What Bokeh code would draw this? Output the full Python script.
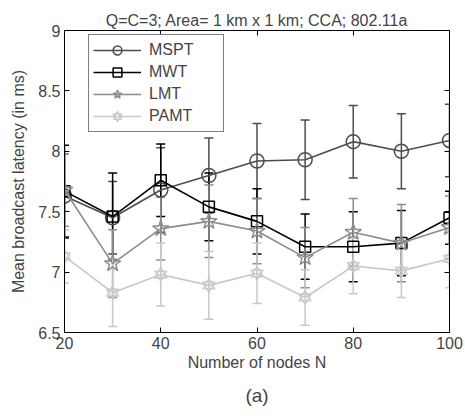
from bokeh.plotting import figure
from bokeh.models import (ColumnDataSource, Whisker, TeeHead, Legend, LegendItem,
                          LinearAxis, FixedTicker, Range1d, Title)
from bokeh.embed import file_html
from bokeh.resources import INLINE

nodes = [20, 30, 40, 50, 60, 70, 80, 90, 100]
series_names = ["MSPT", "MWT", "LMT", "PAMT"]
mspt = [7.63, 7.45, 7.68, 7.80, 7.92, 7.93, 8.08, 8.00, 8.09]
mspt_err = [0.35, 0.30, 0.35, 0.31, 0.31, 0.33, 0.30, 0.31, 0.30]
mwt = [7.67, 7.46, 7.76, 7.54, 7.42, 7.21, 7.21, 7.24, 7.45]
mwt_err = [0.38, 0.36, 0.30, 0.28, 0.27, 0.27, 0.29, 0.27, 0.22]
lmt = [7.68, 7.07, 7.36, 7.42, 7.34, 7.12, 7.33, 7.24, 7.37]
lmt_err = [0.30, 0.28, 0.26, 0.30, 0.27, 0.25, 0.28, 0.32, 0.26]
pamt = [7.13, 6.83, 6.98, 6.89, 6.99, 6.79, 7.05, 7.01, 7.11]
pamt_err = [0.22, 0.28, 0.26, 0.28, 0.25, 0.23, 0.23, 0.22, 0.24]
x_ticks = [20, 40, 60, 80, 100]
y_ticks = [6.5, 7, 7.5, 8, 8.5, 9]

FONT = "Liberation Sans"

p = figure(width=465, height=417, output_backend="svg", toolbar_location=None,
           x_range=Range1d(20, 100), y_range=Range1d(6.5, 9),
           min_border_left=64, min_border_right=16, min_border_top=30, min_border_bottom=85)
p.title.text = "Q=C=3; Area= 1 km x 1 km; CCA; 802.11a"
p.title.align = "center"
p.title.text_font = FONT
p.title.text_font_size = "16px"
p.title.text_font_style = "normal"
p.title.offset = 0
p.title.standoff = 4
p.grid.visible = False
p.outline_line_color = "black"
p.outline_line_width = 1
p.background_fill_color = "white"
p.border_fill_color = "white"

for ax in (p.xaxis[0], p.yaxis[0]):
    ax.major_tick_in = 5
    ax.major_tick_out = 0
    ax.minor_tick_in = 0
    ax.minor_tick_out = 0
    ax.axis_line_color = "black"
    ax.major_label_text_font = FONT
    ax.major_label_text_font_size = "16px"
    ax.axis_label_text_font = FONT
    ax.axis_label_text_font_size = "16px"
    ax.axis_label_text_font_style = "normal"
p.xaxis[0].ticker = FixedTicker(ticks=x_ticks)
p.yaxis[0].ticker = FixedTicker(ticks=y_ticks)
p.xaxis[0].axis_label = "Number of nodes N"
p.yaxis[0].axis_label = "Mean broadcast latency (in ms)"
p.xaxis[0].axis_label_standoff = 2
p.yaxis[0].axis_label_standoff = 8
p.xaxis[0].major_label_standoff = 4
p.yaxis[0].major_label_standoff = 4

for side, tk in (("above", x_ticks), ("right", y_ticks)):
    ax = LinearAxis(ticker=FixedTicker(ticks=tk),
                    major_label_overrides={t: "" for t in tk},
                    major_tick_in=5, major_tick_out=0, minor_tick_in=0, minor_tick_out=0,
                    major_label_standoff=0)
    p.add_layout(ax, side)

p.add_layout(Title(text="(a)", align="center", text_font=FONT, text_font_size="19px",
                   text_font_style="normal", offset=0, standoff=18), "below")

colors = ["#4d4d4d", "#000000", "#8c8c8c", "#c8c8c8"]
means = [mspt, mwt, lmt, pamt]
errs = [mspt_err, mwt_err, lmt_err, pamt_err]
items = []
for name, m, e, c in zip(series_names, means, errs, colors):
    src = ColumnDataSource(dict(x=nodes, y=m,
                                lo=[a - b for a, b in zip(m, e)],
                                hi=[a + b for a, b in zip(m, e)]))
    w = Whisker(source=src, base="x", lower="lo", upper="hi", line_color=c, line_width=1.5,
                upper_head=TeeHead(size=9, line_color=c, line_width=1.5),
                lower_head=TeeHead(size=9, line_color=c, line_width=1.5))
    p.add_layout(w)
    rs = [p.line("x", "y", source=src, line_color=c, line_width=1.6)]
    if name == "MSPT":
        rs.append(p.scatter("x", "y", source=src, marker="circle", size=14, fill_color=None,
                            line_color=c, line_width=1.5))
    elif name == "MWT":
        rs.append(p.scatter("x", "y", source=src, marker="square", size=11, fill_color=None,
                            line_color=c, line_width=1.5))
    elif name == "LMT":
        rs.append(p.scatter("x", "y", source=src, marker="star", size=17, fill_color=None,
                            line_color=c, line_width=1.5))
    else:
        rs.append(p.scatter("x", "y", source=src, marker="triangle", size=12, fill_color=None,
                            line_color=c, line_width=1.3))
        rs.append(p.scatter("x", "y", source=src, marker="inverted_triangle", size=12,
                            fill_color=None, line_color=c, line_width=1.3))
    items.append(LegendItem(label=name, renderers=rs))

legend = Legend(items=items, location=(24, 200), label_text_font=FONT,
                label_text_font_size="16px", glyph_width=48, glyph_height=22,
                label_height=22, label_width=70, spacing=0, padding=4, margin=0,
                border_line_color="black", border_line_width=1,
                background_fill_color="white", background_fill_alpha=1,
                label_standoff=8)
p.add_layout(legend)

open("out.html", "w").write(file_html(p, INLINE))
